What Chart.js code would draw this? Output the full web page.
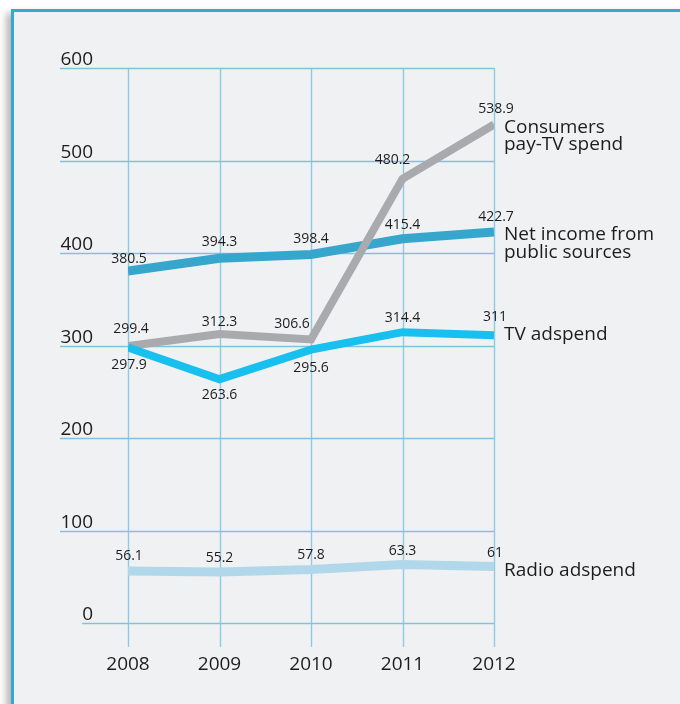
<!DOCTYPE html>
<html>
<head>
<meta charset="utf-8">
<script src="https://cdn.jsdelivr.net/npm/chart.js@4/dist/chart.umd.min.js"></script>
<style>
  html, body { margin: 0; padding: 0; background: #ffffff; }
  #wrap { position: relative; width: 680px; height: 704px; overflow: hidden; }
  #box {
    position: absolute; left: 11px; top: 9px; width: 700px; height: 720px;
    background: #f0f1f3;
    border-left: 3px solid #35a8cf; border-top: 3px solid #35a8cf;
    box-shadow: -5px 4px 7px rgba(0,0,0,0.28);
  }
  #chart { position: absolute; left: 0; top: 0; }
</style>
</head>
<body>
<div id="wrap">
  <div id="box"></div>
  <canvas id="chart" width="680" height="704"></canvas>
</div>
<script>
const years = ['2008', '2009', '2010', '2011', '2012'];
const yTicks = [0, 100, 200, 300, 400, 500, 600];

const payTV = [299.4, 312.3, 306.6, 480.2, 538.9];
const publicIncome = [380.5, 394.3, 398.4, 415.4, 422.7];
const tvAdspend = [297.9, 263.6, 295.6, 314.4, 311];
const radioAdspend = [56.1, 55.2, 57.8, 63.3, 61];

const FONT = '"Open Sans", "Noto Sans", sans-serif';

// label offsets from each point [dx, dy]
const labelOffsets = {
  payTV:        [[3, -17], [0, -12], [-19, -15], [-10, -19], [2, -16]],
  publicIncome: [[1, -12], [0, -16], [0, -15], [0, -14], [2, -15]],
  tvAdspend:    [[1, 18], [0, 16], [0, 18], [0, -14], [1, -18]],
  radioAdspend: [[1, -15], [0, -14], [0, -15], [0, -13], [1, -14]]
};

// series names at the right end, baseline offsets from the last point
const seriesNames = {
  payTV: { lines: ['Consumers', 'pay-TV spend'], dy: 8 },
  publicIncome: { lines: ['Net income from', 'public sources'], dy: 8 },
  tvAdspend: { lines: ['TV adspend'], dy: 5 },
  radioAdspend: { lines: ['Radio adspend'], dy: 9 }
};

const gridPlugin = {
  id: 'grid',
  beforeDatasetsDraw(chart) {
    const { ctx, scales: { x, y } } = chart;
    ctx.save();
    // vertical lines
    ctx.strokeStyle = '#8fcae3';
    ctx.lineWidth = 1.4;
    years.forEach((yr, i) => {
      const px = Math.round(x.getPixelForValue(i)) + 0.5;
      ctx.beginPath();
      ctx.moveTo(px, y.getPixelForValue(600));
      ctx.lineTo(px, y.getPixelForValue(0) + 24);
      ctx.stroke();
    });
    // horizontal lines + tick labels
    ctx.strokeStyle = '#80c3df';
    ctx.lineWidth = 1.6;
    ctx.fillStyle = '#1f1c1d';
    ctx.font = '19px ' + FONT;
    ctx.textAlign = 'right';
    ctx.textBaseline = 'alphabetic';
    const right = x.getPixelForValue(years.length - 1);
    yTicks.forEach(v => {
      const py = Math.round(y.getPixelForValue(v)) + 0.5;
      ctx.beginPath();
      ctx.moveTo(v === 0 ? 82 : 60, py);
      ctx.lineTo(right, py);
      ctx.stroke();
      ctx.fillText(String(v), 93, py - 4);
    });
    // year labels
    ctx.textAlign = 'center';
    years.forEach((yr, i) => {
      ctx.fillText(yr, x.getPixelForValue(i), y.getPixelForValue(0) + 47);
    });
    ctx.restore();
  }
};

const labelPlugin = {
  id: 'labels',
  afterDatasetsDraw(chart) {
    const { ctx } = chart;
    ctx.save();
    ctx.fillStyle = '#1f1c1d';
    chart.data.datasets.forEach((ds, di) => {
      const meta = chart.getDatasetMeta(di);
      const offs = labelOffsets[ds.key];
      ctx.font = '14px ' + FONT;
      ctx.textAlign = 'center';
      ctx.textBaseline = 'middle';
      meta.data.forEach((pt, i) => {
        ctx.fillText(String(ds.data[i]), pt.x + offs[i][0], pt.y + offs[i][1]);
      });
      const last = meta.data[meta.data.length - 1];
      const nm = seriesNames[ds.key];
      ctx.font = '19px ' + FONT;
      ctx.textAlign = 'left';
      ctx.textBaseline = 'alphabetic';
      nm.lines.forEach((ln, k) => {
        ctx.fillText(ln, last.x + 10, last.y + nm.dy + k * 17.5);
      });
    });
    ctx.restore();
  }
};

const ctx = document.getElementById('chart').getContext('2d');
new Chart(ctx, {
  type: 'line',
  data: {
    labels: years,
    datasets: [
      { key: 'tvAdspend', data: tvAdspend, borderColor: '#17c0ef', borderWidth: 8, order: 0 },
      { key: 'payTV', data: payTV, borderColor: '#a9aaad', borderWidth: 8, order: 1 },
      { key: 'publicIncome', data: publicIncome, borderColor: '#36a6cd', borderWidth: 9, order: 2 },
      { key: 'radioAdspend', data: radioAdspend, borderColor: '#b1d8ea', borderWidth: 9, order: 3 }
    ]
  },
  options: {
    responsive: false,
    animation: false,
    events: [],
    layout: { padding: { left: 128, right: 186, top: 68, bottom: 81 } },
    elements: {
      point: { radius: 0 },
      line: { tension: 0, borderCapStyle: 'butt', borderJoinStyle: 'miter', fill: false }
    },
    datasets: { line: { clip: { left: 0, right: 0, top: 20, bottom: 20 } } },
    plugins: { legend: { display: false }, tooltip: { enabled: false } },
    scales: {
      x: { display: false, offset: false },
      y: { display: false, min: 0, max: 600 }
    }
  },
  plugins: [gridPlugin, labelPlugin]
});
</script>
</body>
</html>
